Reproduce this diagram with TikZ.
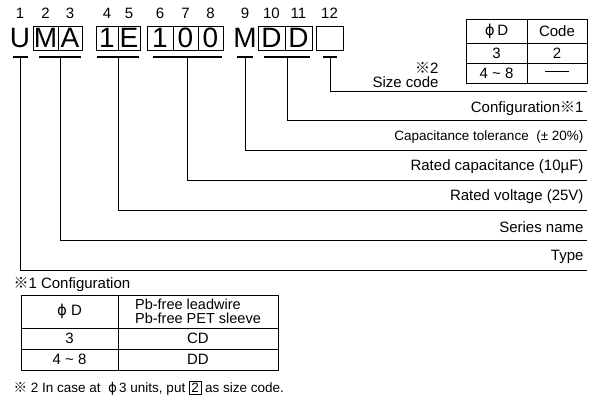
\documentclass[tikz,border=0pt]{standalone}
\usepackage{fontspec}
\setmainfont{Liberation Sans}
\newfontfamily\cjk{Noto Sans CJK JP}
\newfontfamily\dejavu{DejaVu Sans}
\newcommand{\refmark}{{\cjk ※}}
\newcommand{\phid}{{\dejavu ϕ}}
\setlength{\fboxsep}{1.6pt}
\setlength{\fboxrule}{0.8pt}

\begin{document}
\begin{tikzpicture}[x=1pt,y=-1pt,
    lbl/.style={font=\fontsize{15}{15}\selectfont},
    small/.style={font=\fontsize{13.5}{15}\selectfont},
    num/.style={font=\fontsize{15}{16}\selectfont},
    big/.style={font=\fontsize{28}{28}\selectfont},
    cellbox/.style={draw,line width=0.9pt,inner sep=0pt,minimum height=24pt},
    bar/.style={line width=2.6pt},
    lead/.style={line width=0.9pt},
    tbl/.style={line width=0.9pt}]
    \useasboundingbox (0,0) rectangle (603,399);

    % part number
    \node[big] (cU) at (20,38) {U};
    \node[big] (cM2) at (245,38) {M};
    \foreach \name/\x/\w/\t in {cM/45.5/25/M, cA/70/24/A, cOne/107/22/1, cE/129/22/E,
        cOneB/160/26/1, cZero/185.5/25/0, cZeroB/210.5/25/0,
        cD/271.5/27/D, cDB/298.5/27/D, cSize/329.5/27/{}}
        \node[cellbox,big,minimum width=\w pt] (\name) at (\x,38) {\t};

    % digit positions
    \foreach \i/\x in {1/20,2/45.5,3/70,4/107,5/129,6/160,7/185.5,8/210.5,9/245,10/271.5,11/298.5,12/329.5}
        \node[num] (n\i) at (\x,13) {\i};

    % underline bars
    \foreach \a/\b in {13/28, 39/81, 97/139, 153/222, 237/253, 264/310, 323/337}
        \draw[bar] (\a,57) -- (\b,57);

    % leaders to the right
    \foreach \k/\x/\y in {type/20/270, series/60/240, volt/118/210, cap/187.5/180,
        tol/245/150, conf/287/120, size/330/91} {
        \coordinate (s-\k) at (\x,57);
        \coordinate (e-\k) at (587,\y);
        \draw[lead] (s-\k) |- (e-\k);
    }

    \node[lbl,anchor=east] (tType) at (587,257) {Type};
    \node[lbl,anchor=east] (tSeries) at (587,227) {Series name};
    \node[lbl,anchor=east] (tVolt) at (587,197) {Rated voltage (25V)};
    \node[lbl,anchor=east] (tCap) at (587,167) {Rated capacitance (10µF)};
    \node[small,anchor=east] (tTol) at (587,137.5) {Capacitance tolerance \ (± 20\%)};
    \node[lbl,anchor=east] (tConf) at (587,108.5) {Configuration\refmark 1};
    \node[lbl,anchor=east,inner ysep=1pt] (tMark) at (442,68) {\refmark 2};
    \node[lbl,anchor=east,inner ysep=1pt] (tSize) at (442,82.5) {Size code};

    % size code table
    \draw[tbl] (466,19) rectangle (587,83);
    \draw[tbl] (527,19) -- (527,83);
    \draw[tbl] (466,43) -- (587,43);
    \draw[tbl] (466,63) -- (587,63);
    \node[lbl] (sPhi) at (496.5,31) {\phid\,D};
    \node[lbl] (sCode) at (557,31) {Code};
    \node[lbl] (sThree) at (496.5,53) {3};
    \node[lbl] (sTwo) at (557,53) {2};
    \node[lbl] (sRange) at (496.5,73) {4 \textasciitilde\ 8};
    \node[lbl] (sDash) at (557,73) {\rule[4pt]{24pt}{0.9pt}};

    % configuration table
    \node[lbl,anchor=west] (cfgTitle) at (10,285) {\refmark 1 Configuration};
    \draw[tbl] (21,295) rectangle (278,370);
    \draw[tbl] (118,295) -- (118,370);
    \draw[tbl] (21,328) -- (278,328);
    \draw[tbl] (21,349) -- (278,349);
    \node[lbl] (fPhi) at (69.5,311.5) {\phid\ D};
    \node[lbl,align=left,inner ysep=1pt,font=\fontsize{14.5}{13.5}\selectfont] (fHead) at (198,311.5)
        {Pb-free leadwire\\Pb-free PET sleeve};
    \node[lbl] (fThree) at (69.5,338.5) {3};
    \node[lbl] (fCD) at (198,338.5) {CD};
    \node[lbl] (fRange) at (69.5,359.5) {4 \textasciitilde\ 8};
    \node[lbl] (fDD) at (198,359.5) {DD};

    % note
    \node[small,anchor=west] (note) at (10,388)
        {\refmark\ 2 In case at \ \phid\,3 units, put \fbox{2} as size code.};
\end{tikzpicture}
\end{document}
